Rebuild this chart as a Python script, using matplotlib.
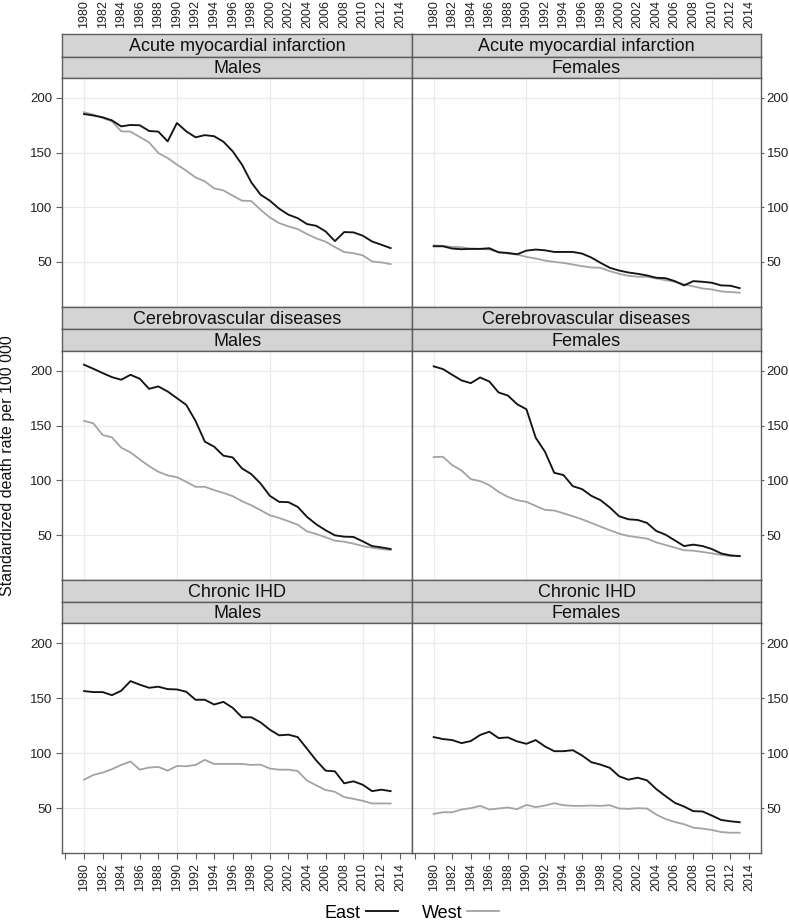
import numpy as np
import matplotlib.pyplot as plt
from matplotlib.lines import Line2D

plt.rcParams['font.family'] = ['Liberation Sans', 'DejaVu Sans']

# data (standardized death rate per 100 000)
years = np.arange(1980, 2014)

ami_m_east = [185.3, 184, 182.3, 179.5, 174, 175.3, 175, 169.8, 169.2, 160.3,
              177.1, 169.5, 164, 166, 165, 160, 151.2, 139, 122.8, 111.5,
              106, 98.7, 93.2, 90, 84.6, 83, 77.9, 69, 77.3, 77,
              74, 68.7, 65.7, 62.6]
ami_m_west = [186.9, 184.7, 181.7, 178.6, 169.5, 169.2, 164.3, 159.4, 149.6, 145,
              139, 133.5, 127.3, 123.7, 117.3, 115.4, 110.6, 106, 105.7, 97.7,
              90.7, 85.5, 82.5, 80, 75.5, 71.5, 68.5, 63.6, 59, 58,
              56, 50.4, 49.5, 48]
ami_f_east = [64.3, 64.3, 62.2, 61.6, 61.9, 61.9, 62.5, 58.8, 58.2, 57,
              60.3, 61.3, 60.6, 59.1, 59.1, 59.1, 57.6, 54, 49.1, 44.6,
              42.1, 40.3, 39.1, 37.6, 35.5, 35.1, 32.4, 28.5, 32.4, 31.8,
              30.9, 28.5, 28.2, 26]
ami_f_west = [65.2, 64.6, 63.7, 63.4, 62.2, 61.9, 61.3, 58.8, 57.6, 56.7,
              54.6, 53.1, 51.2, 50, 49.1, 47.6, 46.1, 44.9, 44.6, 41.5,
              39.1, 37.3, 36.4, 36.4, 34.8, 33.3, 31.8, 29.4, 27.6, 25.7,
              24.8, 23, 22.4, 21.8]
cvd_m_east = [205.5, 201.8, 197.9, 194.2, 191.8, 196.3, 192.7, 183.5, 185.7, 181.1,
              175, 168.9, 154.3, 135.4, 130.8, 122.6, 121, 111, 105.8, 97.2,
              86, 80.5, 80.2, 75.9, 66.8, 60, 54.6, 50, 48.8, 48.5,
              44.5, 40.2, 39, 37.5]
cvd_m_west = [154.3, 152.1, 141.5, 139.3, 129.9, 125.6, 119.2, 113.1, 107.9, 104.6,
              103, 98.8, 94.2, 94.2, 91.2, 88.7, 85.7, 81.1, 77.4, 72.9,
              68.3, 65.8, 62.8, 59.7, 53.6, 51.2, 48.2, 45.1, 44.2, 42.4,
              40.2, 38.7, 37.5, 36.6]
cvd_f_east = [204, 201.5, 196.3, 191.2, 188.7, 193.9, 190.2, 180.2, 177.4, 169.5,
              164.9, 139, 126.2, 107, 104.9, 94.8, 92.1, 86, 82, 75.3,
              67.4, 64.6, 64, 61.3, 54, 50.6, 45.4, 40.2, 41.5, 40.2,
              37.5, 33.5, 31.7, 31.1]
cvd_f_west = [121.3, 121.6, 114, 109.1, 101.2, 99.4, 95.7, 89.6, 85, 82,
              80.5, 76.8, 73.2, 72.6, 70.1, 67.4, 64.6, 61.3, 57.9, 54.6,
              51.5, 49.4, 48.2, 47, 43.6, 41.2, 38.8, 36.4, 36, 34.8,
              33.6, 32.1, 31.2, 30.9]
ihd_m_east = [156.4, 155.5, 155.5, 152.7, 156.7, 165.5, 162.2, 159.4, 160.4, 158.2,
              157.9, 155.8, 148.5, 148.5, 144.2, 146.6, 141.2, 132.6, 132.6, 128,
              121.3, 116.2, 116.8, 114.6, 104, 93.3, 84.1, 83.5, 72.6, 74.4,
              71.3, 65.5, 66.8, 65.5]
ihd_m_west = [75.9, 80.2, 82.3, 85.4, 89.3, 92.4, 85, 86.9, 87.5, 84.1,
              88.4, 88.1, 89.3, 93.9, 90.2, 90.2, 90.2, 90.2, 89.3, 89.6,
              86, 85, 85, 83.8, 75, 70.7, 66.5, 64.9, 60.1, 58.5,
              56.7, 54.3, 54.3, 54.3]
ihd_f_east = [114.6, 112.8, 111.9, 109.1, 111, 116.5, 119.5, 113.7, 114.3, 110.7,
              108.5, 111.9, 106.1, 101.8, 101.8, 102.7, 97.9, 91.8, 89.6, 86.6,
              79, 75.9, 77.7, 75.3, 67.4, 61, 54.9, 51.5, 47.3, 47,
              43.3, 39.3, 38.1, 37.2]
ihd_f_west = [44.8, 46.3, 46.3, 48.8, 50, 52.1, 48.8, 49.7, 50.6, 49.1,
              53, 50.9, 52.4, 54.5, 52.7, 52.1, 52.1, 52.4, 52.1, 52.7,
              49.7, 49.4, 50, 49.7, 44.2, 40.2, 37.5, 35.4, 32.3, 31.4,
              30.2, 28.3, 27.7, 27.7]

causes = ["Acute myocardial infarction", "Cerebrovascular diseases", "Chronic IHD"]
sexes = ["Males", "Females"]
east = [[ami_m_east, ami_f_east], [cvd_m_east, cvd_f_east], [ihd_m_east, ihd_f_east]]
west = [[ami_m_west, ami_f_west], [cvd_m_west, cvd_f_west], [ihd_m_west, ihd_f_west]]

EAST_COL = "#141414"
WEST_COL = "#a3a3a3"
EDGE = "#5e5e5e"
STRIP = "#d4d4d4"
GRID = "#ebebeb"

W, H = 789, 923
fig = plt.figure(figsize=(W / 100, H / 100), dpi=100)


def fbox(x0, y0, x1, y1):
    return [x0 / W, 1 - y1 / H, (x1 - x0) / W, (y1 - y0) / H]


def style_spines(ax):
    for s in ax.spines.values():
        s.set_color(EDGE)
        s.set_linewidth(1.0)


cols = [(62.3, 412), (412, 761)]
rows = [(34.3, 56.7, 78.3, 306.7), (306.7, 329.3, 351, 580.3), (580.3, 602, 623.3, 853.3)]
xlim = (1977.66, 2015.3)
ylim = (9, 218)
xticks = np.arange(1978, 2015, 2)
xlabels = ["" if t == 1978 else str(t) for t in xticks]

for r, (s0, s1, p0, p1) in enumerate(rows):
    for c, (x0, x1) in enumerate(cols):
        # two strip headers
        for (t0, t1, txt) in [(s0, s1, causes[r]), (s1, p0, sexes[c])]:
            sax = fig.add_axes(fbox(x0, t0, x1, t1))
            sax.set_facecolor(STRIP)
            sax.set_xlim(xlim)
            sax.set_yticks([])
            sax.set_xticks([])
            style_spines(sax)
            sax.text(0.5, 0.45, txt, transform=sax.transAxes, ha="center",
                     va="center", fontsize=13, color="#111111")
            if r == 0 and t0 == s0:
                sax.xaxis.tick_top()
                sax.set_xticks(xticks[1:])
                sax.set_xticklabels(xlabels[1:], rotation=90, fontsize=9)
                sax.tick_params(axis="x", length=0, pad=4.5, colors="#222222")

        ax = fig.add_axes(fbox(x0, p0, x1, p1))
        ax.plot(years, west[r][c], color=WEST_COL, lw=1.3, zorder=3)
        ax.plot(years, east[r][c], color=EAST_COL, lw=1.35, zorder=4)
        ax.set_xlim(xlim)
        ax.set_ylim(ylim)
        for yv in [50, 100, 150, 200]:
            ax.axhline(yv, color=GRID, lw=0.9, zorder=1)
        for xv in [1980, 1990, 2000, 2010]:
            ax.axvline(xv, color=GRID, lw=0.9, zorder=1)
        style_spines(ax)
        ax.set_yticks([50, 100, 150, 200])
        if c == 0:
            ax.tick_params(axis="y", left=True, right=False, labelleft=True,
                           labelright=False, length=4, pad=3, labelsize=9.5,
                           color=EDGE, labelcolor="#222222")
        else:
            ax.tick_params(axis="y", left=False, right=True, labelleft=False,
                           labelright=True, length=2, pad=2, labelsize=9.5,
                           color=EDGE, labelcolor="#222222")
        if r == 2:
            ax.set_xticks(xticks)
            ax.set_xticklabels(xlabels, rotation=90, fontsize=9)
            ax.tick_params(axis="x", length=4, pad=3, color=EDGE, labelcolor="#222222")
        else:
            ax.set_xticks([])

fig.text(8 / W, 1 - 466 / H, "Standardized death rate per 100 000", rotation=90,
         ha="center", va="center", fontsize=11.5, color="#111111")

handles = [Line2D([], [], color=EAST_COL, lw=1.35), Line2D([], [], color=WEST_COL, lw=1.3)]
fig.legend(handles, ["East", "West"], ncol=2, markerfirst=False, frameon=False,
           loc="center", bbox_to_anchor=(412 / W, 1 - 913 / H), fontsize=13,
           handlelength=1.75, handletextpad=0.3, columnspacing=1.3)

fig.savefig("out.png", dpi=100)
